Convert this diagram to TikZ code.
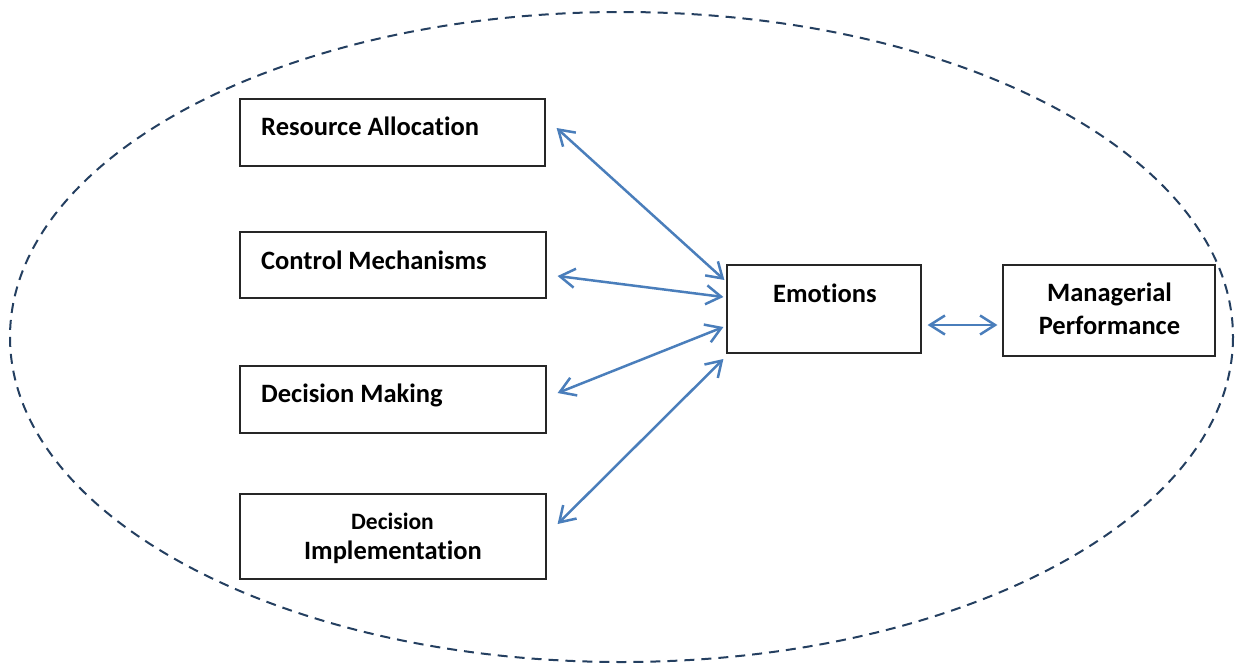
\documentclass[tikz,border=0pt]{standalone}
\usepackage{fontspec}
\setmainfont{Carlito}[Ligatures={NoCommon,NoContextual}]
\usetikzlibrary{arrows.meta}
\definecolor{arrowblue}{HTML}{4A7EBB}
\definecolor{navy}{HTML}{243F60}
\begin{document}
\begin{tikzpicture}[x=1pt,y=-1pt,
  box/.style={draw=black!85,line width=1.2pt,rectangle,inner sep=0pt,fill=none},
  lbl/.style={inner sep=0pt,font=\fontsize{26.5}{30}\selectfont\bfseries},
  lblsmall/.style={inner sep=0pt,font=\fontsize{23.5}{28}\selectfont\bfseries},
  link/.style={draw=arrowblue,line width=2.5pt,{Straight Barb[length=15pt,width=19pt]}-{Straight Barb[length=15pt,width=19pt]}}]
\useasboundingbox (0,0) rectangle (1235,664);
% dashed ellipse
\draw[navy,line width=2pt,dash pattern=on 10pt off 7pt] (621.5,337) ellipse [x radius=611.5,y radius=325];
% boxes
\node[box,minimum width=305pt,minimum height=67pt] (ra) at (392.5,132.5) {};
\node[box,minimum width=306pt,minimum height=66pt] (cm) at (393,265) {};
\node[box,minimum width=306pt,minimum height=67pt] (dm) at (393,399.5) {};
\node[box,minimum width=306pt,minimum height=85pt] (di) at (393,536.5) {};
\node[box,minimum width=194pt,minimum height=88pt] (emo) at (824,309) {};
\node[box,minimum width=212pt,minimum height=91pt] (mp) at (1109,310.5) {};
% labels
\node[lbl,anchor=base west] (ra-t) at (261,135) {Resource Alloca\kern0pt tion};
\node[lbl,anchor=base west] (cm-t) at (261,269) {Control Mechanisms};
\node[lbl,anchor=base west] (dm-t) at (261,402.5) {Decision Making};
\node[lblsmall,anchor=base] (di-t1) at (392.5,529) {Decision};
\node[lbl,anchor=base] (di-t2) at (393,559.5) {Implementa\kern0pt tion};
\node[lbl,anchor=base west] (emo-t) at (773,302) {Emotions};
\node[lbl,anchor=base] (mp-t1) at (1109.5,301) {Managerial};
\node[lbl,anchor=base] (mp-t2) at (1109.5,334) {Performance};
% connectors
\draw[link] ([xshift=11pt,yshift=4.5pt]ra.east) -- ([xshift=-2pt,yshift=29pt]emo.west);
\draw[link] ([xshift=11pt,yshift=-11pt]cm.east) -- ([xshift=-3pt,yshift=12pt]emo.west);
\draw[link] ([xshift=11pt,yshift=6.5pt]dm.east) -- ([xshift=-3pt,yshift=-18pt]emo.west);
\draw[link] ([xshift=11pt,yshift=12.5pt]di.east) -- ([xshift=-3pt,yshift=-50pt]emo.west);
\draw[link] ([xshift=6pt,yshift=-16pt]emo.east) -- ([xshift=-5pt,yshift=-14.5pt]mp.west);
\end{tikzpicture}
\end{document}
